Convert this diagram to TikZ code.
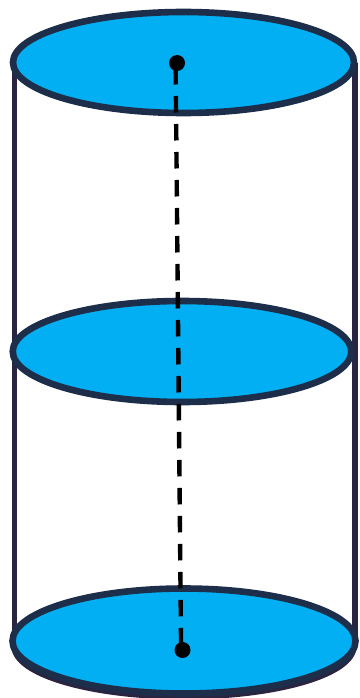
\documentclass[tikz,border=0pt]{standalone}
\usetikzlibrary{shapes.geometric}
\definecolor{discfill}{HTML}{02AFF2}
\definecolor{discedge}{HTML}{1C2E4A}
\definecolor{sideedge}{HTML}{2B2440}
\tikzset{
  disc/.style={ellipse,draw=discedge,fill=discfill,line width=6.6pt,inner sep=0pt,outer sep=0pt,minimum width=#1},
  sideline/.style={draw=sideedge,line width=5.6pt},
  axisdot/.style={circle,fill=black,inner sep=0pt,outer sep=0pt,minimum size=16pt},
  axisline/.style={draw=black,line width=4.4pt,dash pattern=on 16.5pt off 11.5pt,dash phase=23pt}
}
\begin{document}
\begin{tikzpicture}[x=1pt,y=-1pt]
\useasboundingbox[fill=white] (0,0) rectangle (359,698);
\coordinate (lt) at (14.5,63);
\coordinate (lb) at (14.5,641);
\coordinate (rt) at (355,63);
\coordinate (rb) at (355,641);
\path[sideline] (lt) -- (lb);
\path[sideline] (rt) -- (rb);
\node[disc=339pt,minimum height=100pt,draw=sideedge,line width=6pt] (shadow) at (184,646.5) {};
\node[disc=341pt,minimum height=101pt] (top) at (183.5,62.5) {};
\node[disc=338.5pt,minimum height=101pt] (mid) at (182,351.5) {};
\node[disc=343pt,minimum height=105pt] (bot) at (184,641) {};
\node[axisdot] (p) at (177,63) {};
\node[axisdot] (q) at (182.5,650) {};
\coordinate (axa) at ([xshift=-1.4pt]p.center);
\coordinate (axb) at ([xshift=-1.4pt]q.center);
\path[axisline] (axa) -- (axb);
\end{tikzpicture}
\end{document}
